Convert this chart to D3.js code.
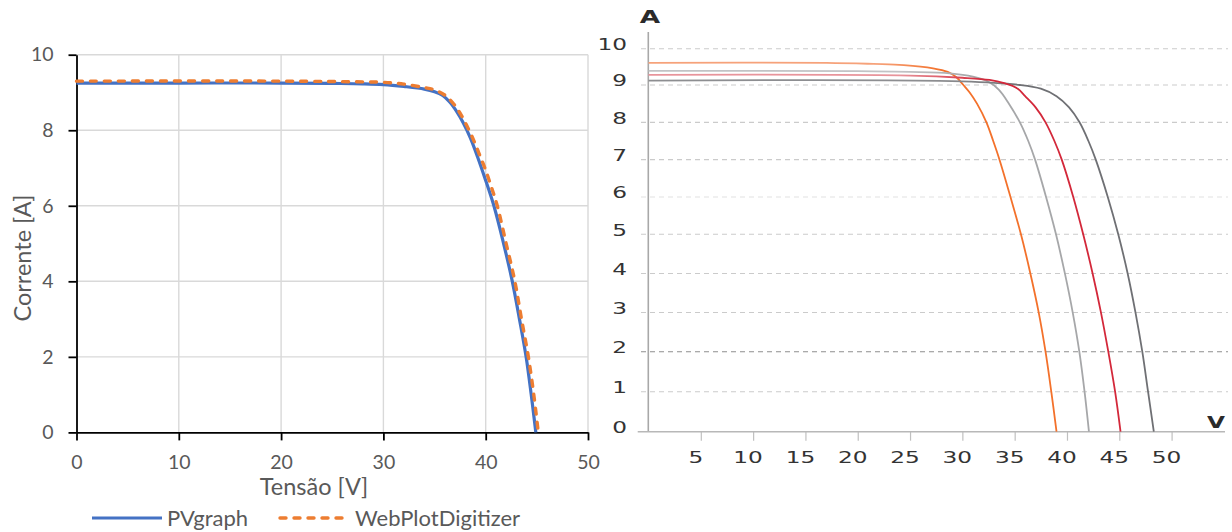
<!DOCTYPE html>
<html>
<head>
<meta charset="utf-8">
<script src="https://cdn.jsdelivr.net/npm/d3@7"></script>
<style>
  body { margin: 0; background: #fff; }
  svg { display: block; }
</style>
</head>
<body>
<svg id="chart" width="1232" height="532"></svg>
<script>
// ---------- Left panel: I-V curve, PVgraph vs WebPlotDigitizer ----------
const pvgraphV = [0, 10, 20, 25, 28, 30, 32, 34, 35, 35.8, 36.5, 37.2, 37.8, 38.5, 39.2, 39.9, 40.8, 41.75, 42.6, 43.3, 43.95, 44.45, 44.9];
const pvgraphI = [9.25, 9.25, 9.25, 9.24, 9.23, 9.21, 9.16, 9.09, 9.02, 8.92, 8.74, 8.48, 8.2, 7.8, 7.3, 6.75, 6.0, 5.0, 4.0, 3.0, 2.0, 1.0, 0];
const digitizerV = [0, 20, 28, 30, 32, 34, 35, 36, 36.8, 37.5, 38.1, 38.8, 39.4, 40, 40.55, 41.13, 42.0, 42.85, 43.5, 44.17, 44.7, 45.14];
const digitizerI = [9.3, 9.3, 9.28, 9.27, 9.22, 9.13, 9.07, 8.93, 8.72, 8.45, 8.15, 7.75, 7.35, 6.94, 6.5, 6.0, 5.0, 4.0, 3.0, 2.0, 1.0, 0];
const leftXTicks = [0, 10, 20, 30, 40, 50];
const leftYTicks = [0, 2, 4, 6, 8, 10];
const legendLabels = ["PVgraph", "WebPlotDigitizer"];
const leftXTitle = "Tensão [V]";
const leftYTitle = "Corrente [A]";

// ---------- Right panel: four module I-V curves ----------
const orangeV = [0, 17, 21.5, 24.4, 27.2, 28.6, 29.4, 30.1, 30.7, 31.4, 32.3, 32.95, 33.55, 34.6, 35.6, 36.5, 37.3, 37.95, 38.5, 39.0];
const orangeI = [9.61, 9.61, 9.58, 9.55, 9.46, 9.36, 9.22, 9.0, 8.8, 8.5, 8.0, 7.5, 7.0, 6.0, 5.0, 4.0, 3.0, 2.0, 1.0, 0];
const lightGreyV = [0, 20, 25, 28.8, 31.0, 32.5, 33.5, 34.45, 35.5, 36.3, 36.95, 38.0, 38.95, 39.8, 40.55, 41.18, 41.68, 42.1];
const lightGreyI = [9.39, 9.38, 9.36, 9.32, 9.23, 9.09, 8.87, 8.5, 8.0, 7.5, 7.0, 6.0, 5.0, 4.0, 3.0, 2.0, 1.0, 0];
const redV = [0, 25, 30, 32.6, 34.0, 35.3, 36.0, 37.0, 37.95, 38.8, 39.5, 40.6, 41.55, 42.45, 43.25, 43.95, 44.6, 45.12];
const redI = [9.28, 9.26, 9.2, 9.14, 9.05, 8.9, 8.7, 8.4, 8.0, 7.5, 7.0, 6.0, 5.0, 4.0, 3.0, 2.0, 1.0, 0];
const darkGreyV = [0, 30, 35.5, 37.5, 39.0, 40.2, 41.2, 42.05, 42.75, 43.9, 44.9, 45.8, 46.55, 47.2, 47.75, 48.3];
const darkGreyI = [9.12, 9.1, 9.0, 8.9, 8.7, 8.4, 8.0, 7.5, 7.0, 6.0, 5.0, 4.0, 3.0, 2.0, 1.0, 0];
const rightXTicks = [5, 10, 15, 20, 25, 30, 35, 40, 45, 50];
const rightYTicks = [0, 1, 2, 3, 4, 5, 6, 7, 8, 9, 10];
const rightXUnit = "V";
const rightYUnit = "A";

const svg = d3.select("#chart");
const defs = svg.append("defs");
const zip = (xs, ys) => xs.map((v, i) => [v, ys[i]]);
const smooth = d3.curveCatmullRom.alpha(0.5);

// ===================== Left panel =====================
{
  const x = d3.scaleLinear().domain([0, 50]).range([76.5, 588]);
  const y = d3.scaleLinear().domain([0, 10]).range([432.4, 54.7]);
  const g = svg.append("g");
  const font = "Lato, 'Open Sans', sans-serif";
  const textColor = "#595959";

  // grid
  g.selectAll("line.vgrid").data(leftXTicks.filter(d => d > 0)).join("line")
    .attr("x1", d => x(d)).attr("x2", d => x(d))
    .attr("y1", y(0)).attr("y2", y(10))
    .attr("stroke", "#d9d9d9").attr("stroke-width", 1.4);
  g.selectAll("line.hgrid").data(leftYTicks.filter(d => d > 0)).join("line")
    .attr("x1", x(0)).attr("x2", x(50))
    .attr("y1", d => y(d)).attr("y2", d => y(d))
    .attr("stroke", "#d9d9d9").attr("stroke-width", 1.4);

  // axes
  const xAxis = g.append("g").attr("transform", `translate(0,${y(0)})`)
    .call(d3.axisBottom(x).tickValues(leftXTicks).tickSize(8).tickSizeOuter(0).tickPadding(15));
  const yAxis = g.append("g").attr("transform", `translate(${x(0)},0)`)
    .call(d3.axisLeft(y).tickValues(leftYTicks).tickSize(8).tickSizeOuter(0).tickPadding(15));
  [xAxis, yAxis].forEach(a => {
    a.select(".domain").attr("stroke", "#000").attr("stroke-width", 1.8);
    a.selectAll(".tick line").attr("stroke", "#000").attr("stroke-width", 1.8);
    a.selectAll("text").attr("fill", textColor)
      .style("font-family", font).style("font-size", "19.5px");
  });

  // curves
  const line = d3.line().x(d => x(d[0])).y(d => y(d[1])).curve(smooth);
  g.append("path").datum(zip(pvgraphV, pvgraphI))
    .attr("d", line).attr("fill", "none")
    .attr("stroke", "#4472C4").attr("stroke-width", 3.2);
  g.append("path").datum(zip(digitizerV, digitizerI))
    .attr("d", line).attr("fill", "none")
    .attr("stroke", "#ED7D31").attr("stroke-width", 3.4)
    .attr("stroke-dasharray", "6,8").attr("stroke-linecap", "round");

  // titles
  g.append("text").attr("x", 314).attr("y", 495)
    .attr("text-anchor", "middle").attr("fill", textColor)
    .style("font-family", font).style("font-size", "23.5px").text(leftXTitle);
  g.append("text").attr("transform", "translate(31,258) rotate(-90)")
    .attr("text-anchor", "middle").attr("fill", textColor)
    .style("font-family", font).style("font-size", "23.5px").text(leftYTitle);

  // legend
  const lg = g.append("g");
  lg.append("line").attr("x1", 92).attr("x2", 162).attr("y1", 518).attr("y2", 518)
    .attr("stroke", "#4472C4").attr("stroke-width", 3.2);
  lg.append("text").attr("x", 167).attr("y", 526).attr("fill", textColor)
    .style("font-family", font).style("font-size", "22px").text(legendLabels[0]);
  lg.append("line").attr("x1", 280).attr("x2", 346).attr("y1", 518).attr("y2", 518)
    .attr("stroke", "#ED7D31").attr("stroke-width", 3.4)
    .attr("stroke-dasharray", "6,8").attr("stroke-linecap", "round");
  lg.append("text").attr("x", 355).attr("y", 526).attr("fill", textColor)
    .style("font-family", font).style("font-size", "22px").text(legendLabels[1]);
}

// ===================== Right panel =====================
{
  const x = d3.scaleLinear().domain([0, 50]).range([648.5, 1171.6]);
  const y = d3.scaleLinear().domain([0, 1, 2, 5, 9, 10]).range([431.7, 391.7, 351.7, 234.3, 85, 48.7]);
  const g = svg.append("g");
  const font = "'DejaVu Sans', sans-serif";
  const stretch = 1.55;
  const gridColor = d => d === 2 ? "#8e8e8e" : (d === 6 ? "#e2e2e2" : "#cbcbcb");

  // dashed grid
  g.selectAll("line.grid").data(rightYTicks.filter(d => d > 0)).join("line")
    .attr("x1", 641).attr("x2", 1228)
    .attr("y1", d => y(d)).attr("y2", d => y(d))
    .attr("stroke", gridColor).attr("stroke-width", 1.1)
    .attr("stroke-dasharray", "5,4");

  // axis lines and ticks
  g.append("line").attr("x1", 648.3).attr("x2", 648.3).attr("y1", 32).attr("y2", y(0))
    .attr("stroke", "#a8a8a8").attr("stroke-width", 1.6);
  const xAxis = g.append("g").attr("transform", `translate(0,${y(0)})`)
    .call(d3.axisBottom(x).tickValues(rightXTicks).tickSize(9).tickFormat(""));
  xAxis.select(".domain").remove();
  xAxis.selectAll(".tick line").attr("stroke", "#c0c0c0").attr("stroke-width", 1.2);
  g.append("line").attr("x1", 637.7).attr("x2", 1225).attr("y1", y(0)).attr("y2", y(0))
    .attr("stroke", "#b8b8b8").attr("stroke-width", 1.6);

  // tick labels (wide lettering)
  g.selectAll("g.ylab").data(rightYTicks).join("g")
    .attr("transform", d => `translate(627,${y(d) - 4}) scale(${stretch},1)`)
    .append("text").attr("text-anchor", "end").attr("dy", "0.36em")
    .attr("fill", "#333").style("font-family", font).style("font-size", "15px")
    .text(d => d);
  g.selectAll("g.xlab").data(rightXTicks).join("g")
    .attr("transform", d => `translate(${x(d) - 5},458) scale(${stretch},1)`)
    .append("text").attr("text-anchor", "middle").attr("dy", "0.36em")
    .attr("fill", "#333").style("font-family", font).style("font-size", "15px")
    .text(d => d);

  // unit labels
  g.append("g").attr("transform", `translate(650,16.5) scale(${stretch},1)`)
    .append("text").attr("text-anchor", "middle").attr("dy", "0.36em")
    .attr("fill", "#2a2a2a").style("font-family", font).style("font-weight", "bold")
    .style("font-size", "17px").text(rightYUnit);
  g.append("g").attr("transform", `translate(1216,423) scale(${stretch},1)`)
    .append("text").attr("text-anchor", "middle").attr("dy", "0.36em")
    .attr("fill", "#2a2a2a").style("font-family", font).style("font-weight", "bold")
    .style("font-size", "15px").text(rightXUnit);

  // curves: the long flat stretch of each curve is drawn in a paler tone
  const series = [
    { id: "c-orange", pts: zip(orangeV, orangeI), pale: "#f6a27a", color: "#F3712B", from: 22, to: 28 },
    { id: "c-lgrey", pts: zip(lightGreyV, lightGreyI), pale: "#c2c3c5", color: "#A6A7A9", from: 24, to: 31 },
    { id: "c-dgrey", pts: zip(darkGreyV, darkGreyI), pale: "#8d8e91", color: "#6F7074", from: 28, to: 36 },
    { id: "c-red", pts: zip(redV, redI), pale: "#e8949b", color: "#D3283A", from: 24, to: 32 }
  ];
  series.forEach(s => {
    const grad = defs.append("linearGradient").attr("id", s.id)
      .attr("gradientUnits", "userSpaceOnUse")
      .attr("x1", x(s.from)).attr("x2", x(s.to)).attr("y1", 0).attr("y2", 0);
    grad.append("stop").attr("offset", 0).attr("stop-color", s.pale);
    grad.append("stop").attr("offset", 1).attr("stop-color", s.color);
  });
  const line = d3.line().x(d => x(d[0])).y(d => y(d[1])).curve(smooth);
  g.selectAll("path.curve").data(series).join("path")
    .attr("d", d => line(d.pts)).attr("fill", "none")
    .attr("stroke", d => `url(#${d.id})`).attr("stroke-width", 1.8);
}
</script>
</body>
</html>
